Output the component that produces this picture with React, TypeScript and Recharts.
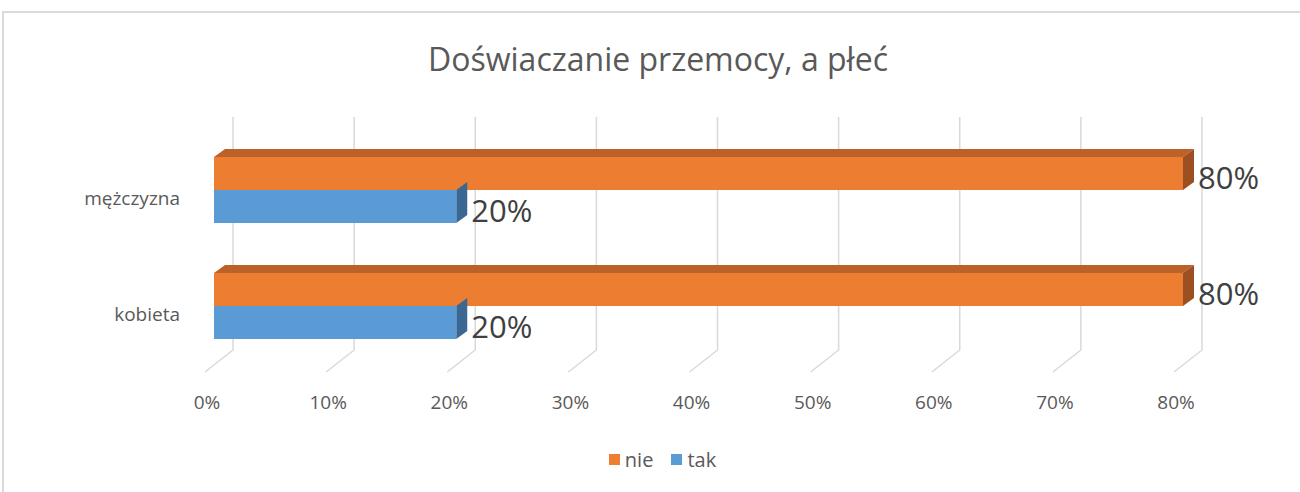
import { Bar, BarChart, CartesianGrid, LabelList, Legend, XAxis, YAxis } from "recharts";

const categories = ["mężczyzna", "kobieta"];
const nieValues = [0.8, 0.8];
const takValues = [0.2, 0.2];
const xTicks = [0, 0.1, 0.2, 0.3, 0.4, 0.5, 0.6, 0.7, 0.8];
const seriesNames = ["nie", "tak"];

const FONT = "'Open Sans', sans-serif";
const ORANGE = "#ED7D31";
const BLUE = "#5B9BD5";

const data = categories.map((name, i) => ({
  name,
  nie: nieValues[i],
  tak: takValues[i],
}));

const pct = (v: number) => `${Math.round(v * 100)}%`;

// 3D box: front face, top face and right side face
function Box3D(props: any) {
  const { x, y, width, height, fill, top, topFill, sideFill } = props;
  const dx = 11;
  const dy = 8;
  return (
    <g>
      {top && (
        <path
          d={`M${x},${y} L${x + dx},${y - dy} L${x + width + dx},${y - dy} L${x + width},${y} Z`}
          fill={topFill}
        />
      )}
      <path
        d={`M${x + width},${y} L${x + width + dx},${y - dy} L${x + width + dx},${y + height - dy} L${x + width},${y + height} Z`}
        fill={sideFill}
      />
      <rect x={x} y={y} width={width} height={height} fill={fill} />
    </g>
  );
}

// back-wall gridline with floor diagonal
function GridLine(props: any) {
  const { x1, y1, y2 } = props;
  return (
    <path
      key={props.key}
      d={`M${x1 + 19},${y1 - 15} L${x1 + 19},${y2 - 14} L${x1 - 9},${y2 + 8}`}
      stroke="#d9d9d9"
      strokeWidth={1.5}
      fill="none"
    />
  );
}

function XTick(props: any) {
  const { x, y, payload } = props;
  return (
    <text
      x={x - 7}
      y={y + 30}
      textAnchor="middle"
      dominantBaseline="central"
      fontSize={19}
      fontFamily={FONT}
      fill="#595959"
    >
      {pct(payload.value)}
    </text>
  );
}

function YTick(props: any) {
  const { x, y, payload } = props;
  return (
    <text
      x={x}
      y={y + 8}
      textAnchor="end"
      dominantBaseline="central"
      fontSize={19}
      fontFamily={FONT}
      fill="#595959"
    >
      {payload.value}
    </text>
  );
}

function ValueLabel(props: any) {
  const { x, y, width, height, value } = props;
  return (
    <text
      x={x + width + 15}
      y={y + height / 2 + 3}
      dominantBaseline="central"
      fontSize={31}
      fontFamily={FONT}
      fill="#404040"
    >
      {pct(value)}
    </text>
  );
}

function LegendContent() {
  const colors = [ORANGE, BLUE];
  return (
    <div
      style={{
        display: "flex",
        justifyContent: "center",
        alignItems: "center",
        gap: 18,
        paddingLeft: 25,
        fontFamily: FONT,
        fontSize: 20,
        color: "#595959",
      }}
    >
      {seriesNames.map((s, i) => (
        <div key={s} style={{ display: "flex", alignItems: "center", gap: 5 }}>
          <span
            style={{ display: "inline-block", width: 11, height: 11, background: colors[i] }}
          />
          <span>{s}</span>
        </div>
      ))}
    </div>
  );
}

export default function App() {
  return (
    <div
      style={{
        position: "absolute",
        left: 0,
        top: 0,
        width: 1300,
        height: 492,
        background: "#fff",
        overflow: "hidden",
      }}
    >
      <div
        style={{
          position: "absolute",
          left: 2,
          top: 11,
          width: 1320,
          height: 520,
          border: "2px solid #dadada",
        }}
      />
      <div
        style={{
          position: "absolute",
          left: 0,
          width: 1316,
          top: 37,
          textAlign: "center",
          fontFamily: FONT,
          fontSize: 32,
          color: "#595959",
        }}
      >
        Doświaczanie przemocy, a płeć
      </div>
      <div style={{ position: "absolute", left: 0, top: 0 }}>
        <BarChart
          width={1300}
          height={492}
          data={data}
          layout="vertical"
          margin={{ top: 132, right: 117, left: 0, bottom: 88 }}
          barCategoryGap={25}
          barGap={0}
        >
          <CartesianGrid horizontal={false} vertical={GridLine} />
          <XAxis
            type="number"
            domain={[0, 0.8]}
            ticks={xTicks}
            axisLine={false}
            tickLine={false}
            height={40}
            tick={XTick}
            interval={0}
          />
          <YAxis
            type="category"
            dataKey="name"
            width={214}
            axisLine={false}
            tickLine={false}
            tickSize={0}
            tickMargin={34}
            tick={YTick}
          />
          <Legend
            layout="horizontal"
            verticalAlign="middle"
            content={LegendContent}
            wrapperStyle={{ top: 446, left: 0, width: 1300 }}
          />
          <Bar
            dataKey="nie"
            name="nie"
            fill={ORANGE}
            barSize={33}
            isAnimationActive={false}
            shape={(p: any) => (
              <Box3D {...p} top topFill="#BC6229" sideFill="#9C5022" />
            )}
          >
            <LabelList dataKey="nie" content={ValueLabel} />
          </Bar>
          <Bar
            dataKey="tak"
            name="tak"
            fill={BLUE}
            barSize={33}
            isAnimationActive={false}
            shape={(p: any) => (
              <Box3D {...p} top={false} topFill="#4A7FB0" sideFill="#3B6793" />
            )}
          >
            <LabelList dataKey="tak" content={ValueLabel} />
          </Bar>
        </BarChart>
      </div>
    </div>
  );
}
